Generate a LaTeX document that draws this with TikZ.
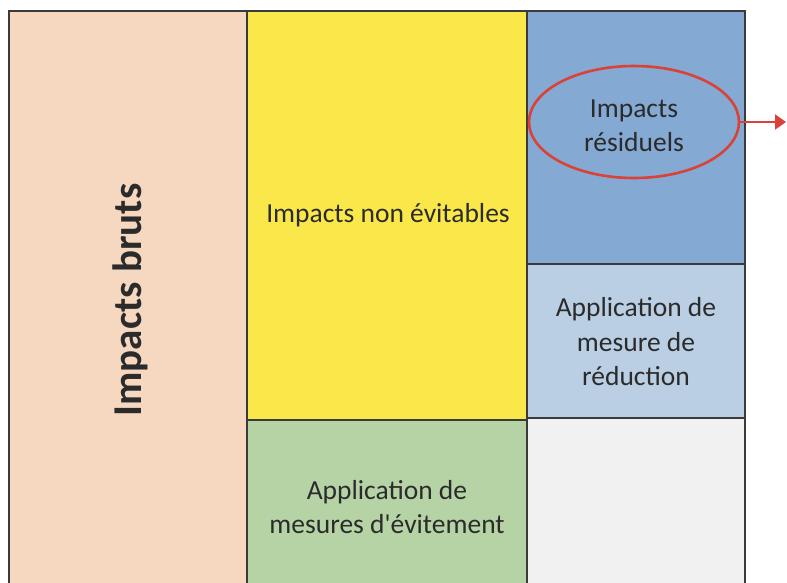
\documentclass[tikz,border=0pt]{standalone}
\usepackage{fontspec}
\setmainfont{Carlito}
\usetikzlibrary{shapes.geometric,arrows.meta}
\definecolor{edge}{HTML}{3A3A3A}
\definecolor{ink}{HTML}{2B2B2B}
\definecolor{beige}{HTML}{F6D7C0}
\definecolor{lemon}{HTML}{FAE84A}
\definecolor{deepblue}{HTML}{84A9D3}
\definecolor{paleblue}{HTML}{BACFE4}
\definecolor{sage}{HTML}{B6D3A6}
\definecolor{offwhite}{HTML}{F1F1F1}
\definecolor{ringred}{HTML}{DA4238}
\begin{document}
\begin{tikzpicture}[x=1pt,y=-1pt,
  cell/.style={draw=edge, line width=1.1pt, inner sep=0pt, outer sep=0pt},
  lbl/.style={text=ink, font=\fontsize{27.5}{34.5}\selectfont, align=center},
  title/.style={text=ink, font=\fontsize{41}{48}\selectfont\bfseries, rotate=90}]
\useasboundingbox (0,0) rectangle (787,582);
\fill[white] (0,0) rectangle (787,582);
\begin{scope}
\clip (0,0) rectangle (787,582);
% columns and cells
\filldraw[cell, fill=beige]    (9,11)    rectangle (247,600);
\filldraw[cell, fill=lemon]    (247,11)  rectangle (527,420);
\filldraw[cell, fill=sage]     (247,420) rectangle (527,600);
\filldraw[cell, fill=deepblue] (527,11)  rectangle (745,264);
\filldraw[cell, fill=paleblue] (527,264) rectangle (745,418);
\filldraw[cell, fill=offwhite] (527,418) rectangle (745,600);
\end{scope}
% labels
\node[title] (bruts) at (130,300) {Impacts bruts};
\node[lbl] (nonevit) at (388,215) {Impacts non évitables};
\node[lbl] (evit) at (387,507) {Application de\\mesures d\textquotesingle évitement};
\node[lbl] (reduc) at (636,342) {Application de\\mesure de\\réduction};
\node[lbl] (resid) at (634,126) {Impacts\\résiduels};
% highlighted residual impacts
\node[ellipse, draw=ringred, line width=2.6pt, minimum width=210pt, minimum height=112pt] (ring) at (634,122) {};
\coordinate (out) at (786,122);
\draw[ringred, line width=2pt, -{Triangle[length=11pt,width=15pt]}] (ring.east) -- (out);
\end{tikzpicture}
\end{document}
